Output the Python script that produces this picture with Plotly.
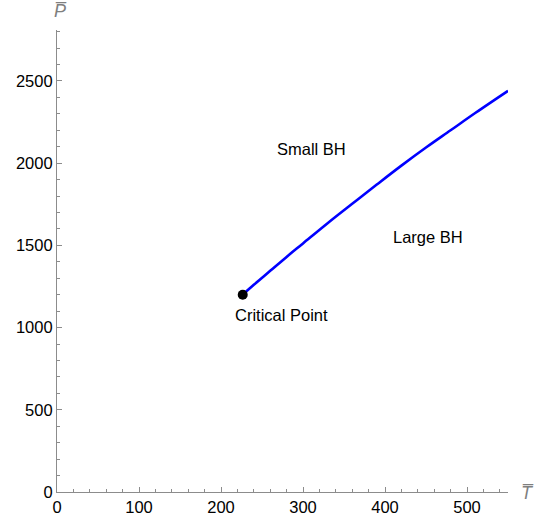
import plotly.graph_objects as go

# Coexistence line in the reduced temperature / pressure plane
T_line = [226.5, 240, 260, 280, 300, 330, 360, 390, 420, 450, 480, 510, 550]
P_line = [1200, 1260, 1345, 1430, 1512, 1635, 1753, 1870, 1985, 2095, 2200, 2305, 2440]

# Critical point
T_crit = [226.5]
P_crit = [1200]

# Text annotations (label, T, P)
labels = ["Small BH", "Large BH", "Critical Point"]
label_T = [310, 452, 274]
label_P = [2086, 1551, 1077]

x_ticks = [0, 100, 200, 300, 400, 500]
y_ticks = [0, 500, 1000, 1500, 2000, 2500]

FONT = "Liberation Sans, Arial, sans-serif"
AXIS_GRAY = "#8c8c8c"

fig = go.Figure()
fig.add_trace(go.Scatter(x=T_line, y=P_line, mode="lines",
                         line=dict(color="#0000ff", width=2.6, shape="spline"),
                         hoverinfo="skip", showlegend=False))
fig.add_trace(go.Scatter(x=T_crit, y=P_crit, mode="markers",
                         marker=dict(color="black", size=10),
                         showlegend=False))

for txt, tx, py in zip(labels, label_T, label_P):
    fig.add_annotation(x=tx, y=py, text=txt, showarrow=False,
                       font=dict(family=FONT, size=16.5, color="black"))

# Axis labels with overbars
fig.add_annotation(xref="paper", yref="paper", x=0.0, y=1.0,
                   xanchor="center", yanchor="middle", xshift=3, yshift=19,
                   text="<i>P\u0305</i>", showarrow=False,
                   font=dict(family=FONT, size=18, color="#7f7f7f"))
fig.add_annotation(xref="paper", yref="paper", x=1.0, y=0.0,
                   xanchor="center", yanchor="middle", xshift=19, yshift=-1,
                   text="<i>T\u0305</i>", showarrow=False,
                   font=dict(family=FONT, size=18, color="#7f7f7f"))

axis_common = dict(showgrid=False, zeroline=False, showline=True,
                   linecolor=AXIS_GRAY, linewidth=1.2, automargin=False,
                   ticks="inside", tickcolor=AXIS_GRAY, ticklen=5, tickwidth=1,
                   tickfont=dict(family=FONT, size=16.5, color="black"))

fig.update_xaxes(range=[0, 550], tickvals=x_ticks,
                 minor=dict(ticks="inside", dtick=20, ticklen=3,
                            tickcolor=AXIS_GRAY, showgrid=False),
                 **axis_common)
fig.update_yaxes(range=[0, 2810], tickvals=y_ticks,
                 minor=dict(ticks="inside", dtick=100, ticklen=3,
                            tickcolor=AXIS_GRAY, showgrid=False),
                 **axis_common)

fig.update_layout(width=546, height=520,
                  margin=dict(l=57, r=38, t=30, b=28),
                  plot_bgcolor="white", paper_bgcolor="white")

fig.write_html("out.html")
